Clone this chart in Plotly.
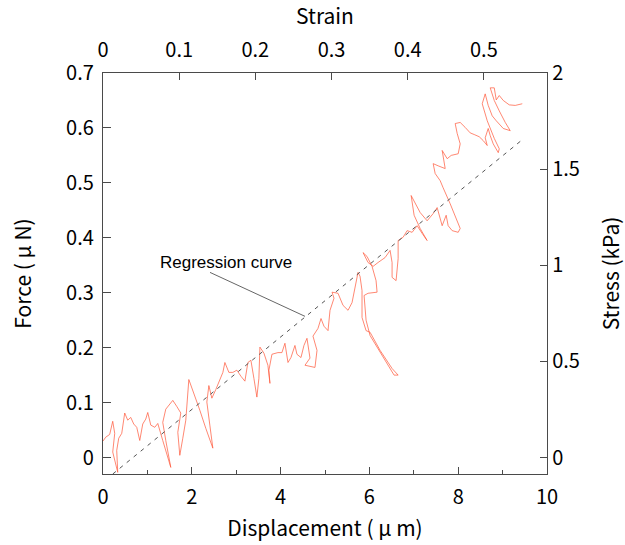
import plotly.graph_objects as go

# Measured force-displacement trace (displacement in um, force in uN)
disp = [0.0, 0.061, 0.151, 0.219, 0.264, 0.219, 0.332, 0.309, 0.354, 0.422,
        0.489, 0.557, 0.625, 0.692, 0.760, 0.828, 0.895, 0.963, 1.008, 1.076,
        1.166, 1.234, 1.346, 1.527, 1.414, 1.346, 1.414, 1.504, 1.572, 1.662,
        1.752, 1.685, 1.730, 1.797, 1.865, 1.933, 2.068, 2.181, 2.316, 2.474,
        2.406, 2.339, 2.384, 2.452, 2.542, 2.632, 2.700, 2.745, 2.835, 2.925,
        3.015, 3.106, 3.196, 3.263, 3.331, 3.399, 3.466, 3.511, 3.534, 3.624,
        3.714, 3.760, 3.737, 3.805, 3.940, 4.030, 4.098, 4.166, 4.233, 4.323,
        4.368, 4.459, 4.526, 4.594, 4.662, 4.549, 4.662, 4.774, 4.820, 4.729,
        4.842, 4.910, 4.977, 5.068, 5.113, 5.203, 5.158, 5.293, 5.406, 5.519,
        5.609, 5.699, 5.744, 5.789, 5.834, 5.834, 5.925, 6.015, 6.241, 6.511,
        6.647, 6.556, 6.286, 6.015, 5.925, 5.880, 5.970, 6.173, 6.150, 6.060,
        5.947, 5.857, 5.970, 6.083, 6.195, 6.353, 6.466, 6.511, 6.511, 6.601,
        6.647, 6.647, 6.759, 6.849, 6.962, 7.075, 7.188, 7.300, 7.143, 7.007,
        6.940, 7.030, 7.143, 7.300, 7.436, 7.526, 7.594, 7.639, 7.729, 7.774,
        7.864, 8.000, 8.045, 7.932, 7.819, 7.661, 7.594, 7.481, 7.436, 7.549,
        7.707, 7.639, 7.752, 7.842, 8.000, 8.045, 7.977, 7.932, 8.045, 8.157,
        8.270, 8.360, 8.473, 8.563, 8.654, 8.608, 8.676, 8.721, 8.789, 8.902,
        8.925, 8.812, 8.654, 8.541, 8.608, 8.676, 8.766, 8.857, 9.015, 9.172,
        9.060, 8.925, 8.812, 8.721, 8.812, 8.857, 8.925, 9.015, 9.150, 9.285,
        9.443]
force = [0.030, 0.037, 0.042, 0.066, 0.044, 0.010, -0.027, 0.013, 0.035, 0.044,
         0.081, 0.068, 0.073, 0.061, 0.055, 0.031, 0.061, 0.070, 0.082, 0.059,
         0.055, 0.062, 0.031, -0.018, 0.031, 0.064, 0.088, 0.097, 0.104, 0.093,
         0.081, 0.046, 0.004, 0.035, 0.068, 0.142, 0.113, 0.086, 0.053, 0.017,
         0.059, 0.101, 0.131, 0.108, 0.124, 0.141, 0.155, 0.173, 0.155, 0.155,
         0.159, 0.148, 0.139, 0.173, 0.177, 0.144, 0.110, 0.144, 0.201, 0.190,
         0.168, 0.135, 0.159, 0.188, 0.191, 0.191, 0.208, 0.173, 0.182, 0.204,
         0.188, 0.182, 0.204, 0.217, 0.181, 0.168, 0.166, 0.164, 0.195, 0.221,
         0.235, 0.253, 0.239, 0.231, 0.268, 0.290, 0.301, 0.299, 0.277, 0.268,
         0.282, 0.322, 0.337, 0.330, 0.304, 0.255, 0.231, 0.228, 0.195, 0.162,
         0.150, 0.150, 0.186, 0.222, 0.250, 0.295, 0.299, 0.301, 0.322, 0.348,
         0.366, 0.373, 0.355, 0.348, 0.355, 0.364, 0.377, 0.355, 0.328, 0.322,
         0.362, 0.395, 0.401, 0.413, 0.410, 0.422, 0.408, 0.395, 0.417, 0.441,
         0.477, 0.462, 0.446, 0.431, 0.444, 0.455, 0.435, 0.422, 0.441, 0.422,
         0.413, 0.410, 0.417, 0.441, 0.462, 0.491, 0.504, 0.517, 0.535, 0.531,
         0.526, 0.559, 0.544, 0.550, 0.553, 0.571, 0.590, 0.608, 0.610, 0.601,
         0.591, 0.588, 0.584, 0.577, 0.568, 0.582, 0.599, 0.586, 0.571, 0.555,
         0.562, 0.581, 0.613, 0.644, 0.662, 0.641, 0.622, 0.613, 0.599, 0.595,
         0.610, 0.631, 0.650, 0.673, 0.673, 0.651, 0.659, 0.650, 0.642, 0.641,
         0.644]

# Regression line
reg_x = [0.22, 9.45]
reg_y = [-0.030, 0.579]

# Axis tick values / labels
x_ticks = [0, 2, 4, 6, 8, 10]
force_ticks = [0, 0.1, 0.2, 0.3, 0.4, 0.5, 0.6, 0.7]
strain_ticks = [0, 0.1, 0.2, 0.3, 0.4, 0.5]
stress_ticks = [0, 0.5, 1, 1.5, 2]

AX = "#4a4a4a"
TICKFONT = dict(family="Noto Sans CJK JP, Liberation Sans, sans-serif", size=20, color="black")
TITLEFONT = dict(family="Noto Sans CJK JP, Liberation Sans, sans-serif", size=21, color="black")

fig = go.Figure()
fig.add_trace(go.Scatter(x=disp, y=force, mode="lines",
                         line=dict(color="rgb(255,85,55)", width=0.7),
                         showlegend=False, hoverinfo="skip"))
fig.add_trace(go.Scatter(x=reg_x, y=reg_y, mode="lines",
                         line=dict(color="#555555", width=1, dash="4px,5px"),
                         showlegend=False, hoverinfo="skip"))
# invisible traces to anchor the secondary axes
fig.add_trace(go.Scatter(x=[0], y=[0], xaxis="x2", yaxis="y2", mode="markers",
                         marker=dict(opacity=0), showlegend=False, hoverinfo="skip"))

common = dict(showline=True, linecolor=AX, linewidth=1.3, ticks="inside",
              tickcolor=AX, tickwidth=1.3, showgrid=False, zeroline=False,
              tickfont=TICKFONT, mirror=False, automargin=False)

fig.update_layout(
    width=625, height=545,
    margin=dict(l=103, r=78, t=73, b=71),
    plot_bgcolor="white", paper_bgcolor="white",
    xaxis=dict(range=[0, 10], tickvals=x_ticks, ticklen=7, ticklabelstandoff=5,
               minor=dict(dtick=1, ticks="inside", ticklen=4, tickcolor=AX, tickwidth=1.3),
               title=dict(text="Displacement ( μ m)", font=TITLEFONT, standoff=12),
               **common),
    yaxis=dict(range=[-0.03, 0.7], tickvals=force_ticks, ticklen=8, ticklabelstandoff=4,
               ticktext=["0", "0.1", "0.2", "0.3", "0.4", "0.5", "0.6", "0.7"],
               title=dict(text="Force ( μ N)", font=TITLEFONT, standoff=28),
               **common),
    xaxis2=dict(range=[0, 0.5829], tickvals=strain_ticks, ticklen=7, overlaying="x",
                side="top", anchor="y", ticklabelstandoff=7,
                ticktext=["0", "0.1", "0.2", "0.3", "0.4", "0.5"],
                title=dict(text="Strain", font=TITLEFONT, standoff=5),
                **common),
    yaxis2=dict(range=[-0.0857, 2], tickvals=stress_ticks, ticklen=7, overlaying="y",
                side="right", anchor="x",
                ticktext=["0", "0.5", "1", "1.5", "2"],
                title=dict(text="Stress (kPa)", font=TITLEFONT, standoff=28),
                **common),
)

fig.add_shape(type="line", x0=2.41, y0=0.337, x1=4.55, y1=0.257, xref="x", yref="y",
              line=dict(color="#666666", width=1))
fig.add_annotation(x=2.77, y=0.355, xref="x", yref="y", text="Regression curve",
                   showarrow=False, font=dict(family="Liberation Sans, Arial", size=17, color="black"))

fig.write_html("out.html")
